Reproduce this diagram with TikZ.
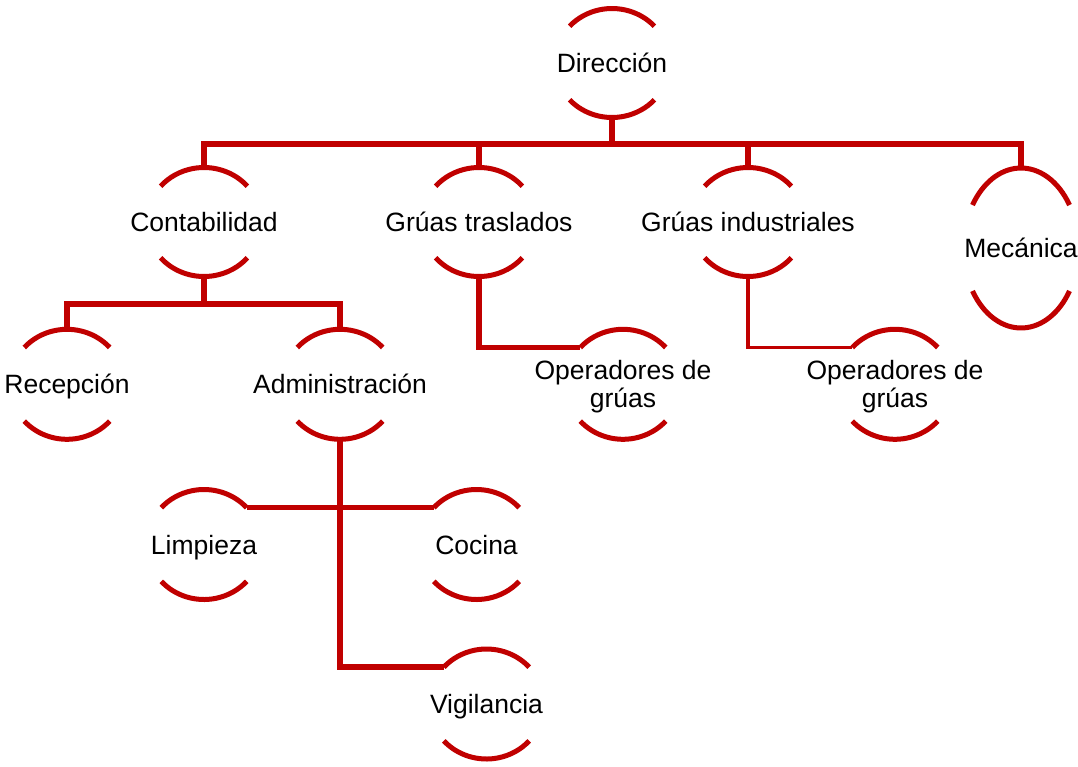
\documentclass[tikz,border=0pt]{standalone}
\usepackage{fontspec}
\setmainfont{Liberation Sans}
\usetikzlibrary{calc}
\definecolor{orgred}{HTML}{C00000}
\tikzset{
 arcline/.style={draw=orgred, line width=5pt},
 conn/.style={draw=orgred, line width=5.5pt},
 thinconn/.style={draw=orgred, line width=3.8pt},
 lbl/.style={inner sep=0pt, font=\fontsize{26.5pt}{28pt}\selectfont, text height=19pt, text depth=0pt},
 lbltwo/.style={inner sep=0pt, font=\fontsize{26.5pt}{28pt}\selectfont, align=center},
}
\newcommand{\orgshape}[5]{%
 \coordinate (#1-c) at (#2,-#3);
 \coordinate (#1-t) at ($(#1-c)+(0,#4)$);
 \coordinate (#1-b) at ($(#1-c)+(0,-#4)$);
 \coordinate (#1-l) at ($(#1-c)+(180-#5:57.5pt and #4pt)$);
 \coordinate (#1-r) at ($(#1-c)+(#5:57.5pt and #4pt)$);
 \draw[arcline] (#1-r) arc[start angle=#5, end angle=180-#5, x radius=57.5pt, y radius=#4pt];
 \draw[arcline] ($(#1-c)+(180+#5:57.5pt and #4pt)$) arc[start angle=180+#5, end angle=360-#5, x radius=57.5pt, y radius=#4pt];
}
\begin{document}
\begin{tikzpicture}[x=1pt,y=1pt]
\useasboundingbox (0,0) rectangle (1078,-766);
% shapes
\orgshape{dir}{612}{63}{54.5}{42.5}
\orgshape{cont}{204}{222}{54.5}{41}
\orgshape{gt}{479}{222}{54.5}{41}
\orgshape{gi}{748}{222}{54.5}{41}
\orgshape{mec}{1021}{248}{80}{32.5}
\orgshape{rec}{67}{384.3}{55}{42}
\orgshape{adm}{340}{384.3}{55}{42}
\orgshape{opa}{623}{384.3}{55}{42}
\orgshape{opb}{895}{384.3}{55}{42}
\orgshape{lim}{204}{544.5}{55}{42}
\orgshape{coc}{476.5}{544.5}{55}{42}
\orgshape{vig}{486.5}{704}{55}{42}
% labels
\node[lbl] (dir) at (dir-c) {Dirección};
\node[lbl] (cont) at (cont-c) {Contabilidad};
\node[lbl] (gt) at (gt-c) {Grúas traslados};
\node[lbl] (gi) at (gi-c) {Grúas industriales};
\node[lbl] (mec) at (mec-c) {Mecánica};
\node[lbl] (rec) at (rec-c) {Recepción};
\node[lbl] (adm) at (adm-c) {Administración};
\node[lbltwo] (opa) at ($(opa-c)+(0,-2.7)$) {Operadores de\\grúas};
\node[lbltwo] (opb) at ($(opb-c)+(0,-2.7)$) {Operadores de\\grúas};
\node[lbl] (lim) at (lim-c) {Limpieza};
\node[lbl] (coc) at (coc-c) {Cocina};
\node[lbl] (vig) at (vig-c) {Vigilancia};
% connectors
\coordinate (busa) at (0,-144);
\coordinate (busb) at (0,-304);
\draw[conn] (dir-b) -- (dir-b |- busa);
\draw[conn] (cont-t) -- (cont-t |- busa) -- (mec-t |- busa) -- (mec-t);
\draw[conn] (gt-t) -- (gt-t |- busa);
\draw[conn] (gi-t) -- (gi-t |- busa);
\draw[conn] (cont-b) -- (cont-b |- busb);
\draw[conn] (rec-t) -- (rec-t |- busb) -- (adm-t |- busb) -- (adm-t);
\draw[conn] (gt-b) |- (opa-l);
\draw[thinconn] (gi-b) |- (opb-l);
\draw[conn] (adm-b) |- (vig-l);
\draw[conn] (lim-r) -- (coc-l);
\end{tikzpicture}
\end{document}
